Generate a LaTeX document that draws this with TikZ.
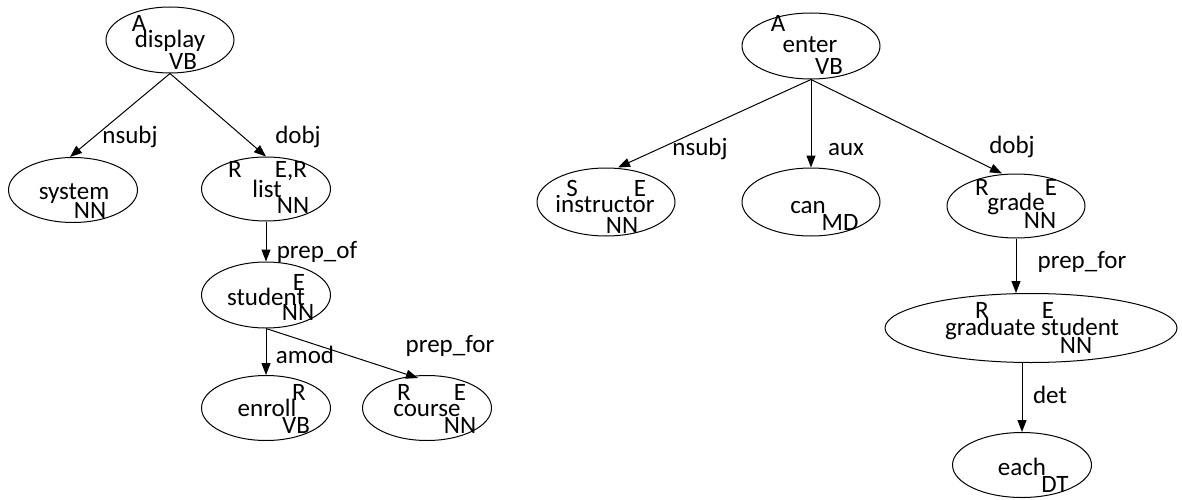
\documentclass[tikz,border=0pt]{standalone}
\usepackage{fontspec}
\setmainfont{Carlito}
\usetikzlibrary{shapes.geometric,arrows.meta}
\tikzset{
  ell/.style={ellipse, draw, line width=1pt, inner sep=0pt},
  tx/.style={anchor=base, inner sep=0pt, font=\fontsize{25}{25}\selectfont},
  arr/.style={-{Triangle[length=12pt,width=9pt]}, line width=1pt}
}
\begin{document}
\begin{tikzpicture}[x=1pt,y=-1pt]
\useasboundingbox (0,0) rectangle (1182,500);
% ellipses
\node[ell, minimum width=128pt, minimum height=66pt] (display) at (170,40) {};
\node[ell, minimum width=129pt, minimum height=65pt] (system) at (73,190) {};
\node[ell, minimum width=129pt, minimum height=64pt] (list) at (266,189) {};
\node[ell, minimum width=129pt, minimum height=66pt] (student) at (266,295) {};
\node[ell, minimum width=129pt, minimum height=65pt] (enroll) at (266,408) {};
\node[ell, minimum width=129pt, minimum height=65pt] (course) at (427,408) {};
\node[ell, minimum width=138pt, minimum height=66pt] (enter) at (811,46) {};
\node[ell, minimum width=138pt, minimum height=68pt] (instructor) at (606,202) {};
\node[ell, minimum width=138pt, minimum height=68pt] (can) at (811,202) {};
\node[ell, minimum width=138pt, minimum height=64pt] (grade) at (1016,206) {};
\node[ell, minimum width=292pt, minimum height=69pt] (gs) at (1031,328) {};
\node[ell, minimum width=139pt, minimum height=65pt] (each) at (1022,465) {};
% texts: display
\node[tx] (dA) at (139,32) {A};
\node[tx] (dW) at (170,48) {display};
\node[tx] (dP) at (183,70) {VB};
% system
\node[tx] (sW) at (74,199) {system};
\node[tx] (sP) at (90,218) {NN};
% list
\node[tx] (lR) at (235,177) {R};
\node[tx] (lE) at (291,177) {E,R};
\node[tx] (lW) at (267,197) {list};
\node[tx] (lP) at (293,213) {NN};
% student
\node[tx] (stE) at (299,290) {E};
\node[tx] (stW) at (266,305) {student};
\node[tx] (stP) at (298,320) {NN};
% enroll
\node[tx] (eR) at (299,400) {R};
\node[tx] (eW) at (267,416) {enroll};
\node[tx] (eP) at (296,433) {VB};
% course
\node[tx] (cR) at (404,400) {R};
\node[tx] (cE) at (460,400) {E};
\node[tx] (cW) at (427,416) {course};
\node[tx] (cP) at (460,433) {NN};
% enter
\node[tx] (enA) at (778,32) {A};
\node[tx] (enW) at (810,53) {enter};
\node[tx] (enP) at (829,75) {VB};
% instructor
\node[tx] (iS) at (572,196) {S};
\node[tx] (iE) at (640,196) {E};
\node[tx] (iW) at (605,212) {instructor};
\node[tx] (iP) at (622,233) {NN};
% can
\node[tx] (caW) at (808,213) {can};
\node[tx] (caP) at (840,230) {MD};
% grade
\node[tx] (gR) at (982,195) {R};
\node[tx] (gE) at (1051,195) {E};
\node[tx] (gW) at (1016,210) {grade};
\node[tx] (gP) at (1040,228) {NN};
% graduate student
\node[tx] (gsR) at (982,318) {R};
\node[tx] (gsE) at (1048,318) {E};
\node[tx] (gsW) at (1032,335) {graduate student};
\node[tx] (gsP) at (1076,353) {NN};
% each
\node[tx] (ehW) at (1022,475) {each};
\node[tx] (ehP) at (1055,492) {DT};
% edges
\draw[arr] (display.south) -- ([xshift=-3]system.north);
\draw[arr] (display.south) -- (list.north);
\draw[arr] (list.south) -- (student.north);
\draw[arr] (student.south) -- (enroll.north);
\draw[arr] (student.south) -- ([xshift=-9,yshift=-3]course.north);
\draw[arr] (enter.south) -- ([xshift=12]instructor.north);
\draw[arr] (enter.south) -- (can.north);
\draw[arr] (enter.south) -- ([xshift=-14]grade.north);
\draw[arr] (grade.south) -- (grade.south |- gs.north);
\draw[arr] (each.north |- gs.south) -- (each.north);
% edge labels
\node[tx] (l1) at (130,143) {nsubj};
\node[tx] (l2) at (298,143) {dobj};
\node[tx] (l3) at (317,258) {prep\_of};
\node[tx] (l4) at (305,363) {amod};
\node[tx] (l5) at (450,352) {prep\_for};
\node[tx] (l6) at (700,155) {nsubj};
\node[tx] (l7) at (846,155) {aux};
\node[tx] (l8) at (1012,153) {dobj};
\node[tx] (l9) at (1082,268) {prep\_for};
\node[tx] (l10) at (1050,403) {det};
\end{tikzpicture}
\end{document}
